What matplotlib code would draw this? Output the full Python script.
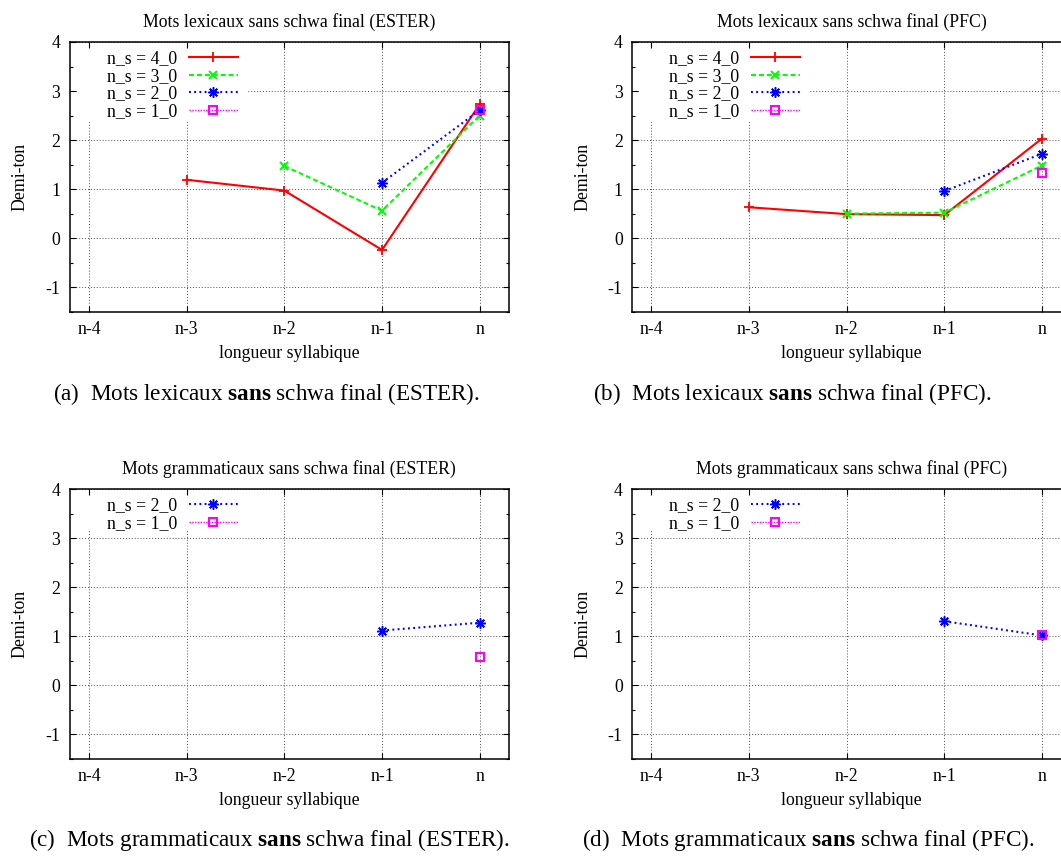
import numpy as np
import matplotlib
matplotlib.use("Agg")
import matplotlib.pyplot as plt
from matplotlib.patches import Rectangle

plt.rcParams["font.family"] = ["Liberation Serif", "DejaVu Serif"]
plt.rcParams["mathtext.fontset"] = "custom"
plt.rcParams["mathtext.rm"] = "Liberation Serif"
plt.rcParams["mathtext.bf"] = "Liberation Serif:bold"
plt.rcParams["axes.unicode_minus"] = False

# x positions n-4 .. n
X_LABELS = ["n-4", "n-3", "n-2", "n-1", "n"]
Y_TICKS = [-1, 0, 1, 2, 3, 4]
Y_LABELS = ["-1", "0", "1", "2", "3", "4"]
nan = np.nan

# (a) lexical words, ESTER
lex_ester_4 = [nan, 1.19, 0.97, -0.24, 2.73]
lex_ester_3 = [nan, nan, 1.47, 0.56, 2.50]
lex_ester_2 = [nan, nan, nan, 1.13, 2.61]
lex_ester_1 = [nan, nan, nan, nan, 2.61]

# (b) lexical words, PFC
lex_pfc_4 = [nan, 0.63, 0.49, 0.47, 2.03]
lex_pfc_3 = [nan, nan, 0.50, 0.52, 1.48]
lex_pfc_2 = [nan, nan, nan, 0.96, 1.72]
lex_pfc_1 = [nan, nan, nan, nan, 1.33]

# (c) grammatical words, ESTER
gram_ester_2 = [nan, nan, nan, 1.12, 1.28]
gram_ester_1 = [nan, nan, nan, nan, 0.58]

# (d) grammatical words, PFC
gram_pfc_2 = [nan, nan, nan, 1.31, 1.02]
gram_pfc_1 = [nan, nan, nan, nan, 1.02]

TITLES = [
    "Mots lexicaux sans schwa final (ESTER)",
    "Mots lexicaux sans schwa final (PFC)",
    "Mots grammaticaux sans schwa final (ESTER)",
    "Mots grammaticaux sans schwa final (PFC)",
]
CAPTIONS = [
    r"(a)  Mots lexicaux $\mathbf{sans}$ schwa final (ESTER).",
    r"(b)  Mots lexicaux $\mathbf{sans}$ schwa final (PFC).",
    r"(c)  Mots grammaticaux $\mathbf{sans}$ schwa final (ESTER).",
    r"(d)  Mots grammaticaux $\mathbf{sans}$ schwa final (PFC).",
]

# series styles (gnuplot-like)
STYLES = {
    "4_0": dict(color="#ff0000", ls="-", marker="+", ms=6.5, mew=1.3),
    "3_0": dict(color="#00ff00", ls=(0, (2.4, 1.4)), marker="x", ms=5.5, mew=1.5),
    "2_0": dict(color="#0000ff", ls=(0, (0.9, 1.6)), marker=(8, 2, 0), ms=7.5, mew=1.1),
    "1_0": dict(color="#ff00ff", ls=(0, (1, 1)), marker="s", ms=5.5, mew=1.5,
                mfc="none", lw=1.0),
}

panels = [
    [("4_0", lex_ester_4), ("3_0", lex_ester_3), ("2_0", lex_ester_2), ("1_0", lex_ester_1)],
    [("4_0", lex_pfc_4), ("3_0", lex_pfc_3), ("2_0", lex_pfc_2), ("1_0", lex_pfc_1)],
    [("2_0", gram_ester_2), ("1_0", gram_ester_1)],
    [("2_0", gram_pfc_2), ("1_0", gram_pfc_1)],
]

W, H = 1061, 857
fig = plt.figure(figsize=(W / 100, H / 100), dpi=100)

# axes boxes in pixels: left, top
AX_W, AX_H = 439.5, 269.7
boxes = [(69.5, 42), (631.7, 42), (69.5, 489.3), (631.7, 489.3)]
cap_pos = [(266, 394), (792, 394), (269, 840), (808, 840)]
FS = 12.8

x = np.arange(len(X_LABELS))
for i, (series, (lx, ty)) in enumerate(zip(panels, boxes)):
    ax = fig.add_axes([lx / W, 1 - (ty + AX_H) / H, AX_W / W, AX_H / H])
    ax.set_xlim(-0.2, 4.3)
    ax.set_ylim(-1.5, 4)
    ax.set_axisbelow(True)
    ax.grid(True, color="0.3", ls=(0, (1, 2)), lw=0.7)

    for name, vals in series:
        st = dict(STYLES[name])
        lw = st.pop("lw", 1.5)
        ax.plot(x, vals, lw=lw, label="n_s = " + name, **st)

    # white key background hiding the grid (gnuplot style)
    nrows = len(series)
    bw, bh = 178.5 - 7, 19.5 * nrows + 2 - 7
    ax.add_patch(Rectangle((7 / AX_W, 1 - (bh + 7) / AX_H), bw / AX_W, bh / AX_H,
                           transform=ax.transAxes, facecolor="white",
                           edgecolor="none", zorder=1))

    ax.set_xticks(x)
    ax.set_xticklabels(X_LABELS, fontsize=FS)
    ax.set_yticks(Y_TICKS)
    ax.set_yticklabels(Y_LABELS, fontsize=FS)
    ax.set_yticks(np.arange(-1.5, 4.01, 0.5), minor=True)
    ax.tick_params(which="both", direction="in", top=True, right=True, width=0.8)
    ax.tick_params(which="major", length=4.3, pad=6.5)
    ax.tick_params(which="minor", length=2.2)
    for sp in ax.spines.values():
        sp.set_linewidth(1.1)

    ax.set_title(TITLES[i], fontsize=FS, pad=11)
    ax.set_xlabel("longueur syllabique", fontsize=FS, labelpad=5)
    ax.set_ylabel("Demi-ton", fontsize=FS, labelpad=12)

    ax.legend(loc="upper left", bbox_to_anchor=(0.0846, 0.97), frameon=False,
              markerfirst=False, borderpad=0, borderaxespad=0, fontsize=FS,
              handlelength=2.75, handletextpad=0.67, labelspacing=0.04)

    fig.text(cap_pos[i][0] / W, 1 - cap_pos[i][1] / H, CAPTIONS[i],
             fontsize=16.7, ha="center", va="center")

fig.savefig("out.png", dpi=100)
